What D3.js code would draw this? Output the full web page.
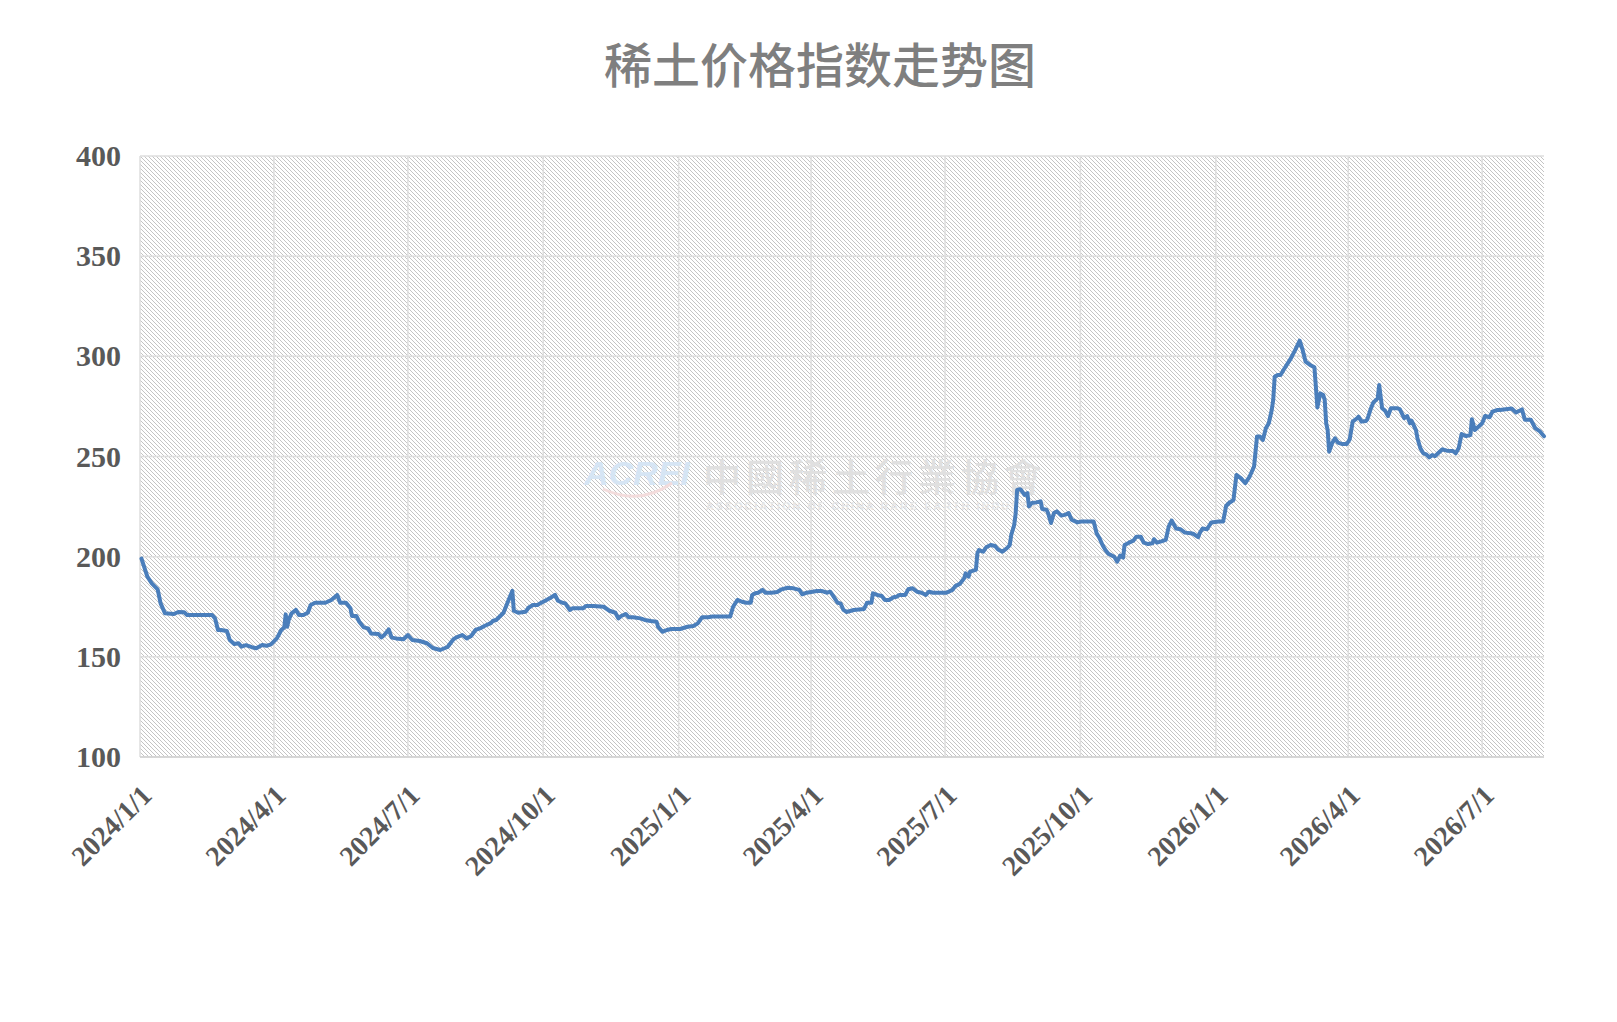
<!DOCTYPE html>
<html>
<head>
<meta charset="utf-8">
<script src="https://cdn.jsdelivr.net/npm/d3@7"></script>
<style>
  html, body { margin: 0; padding: 0; background: #ffffff; }
  svg { display: block; }
</style>
</head>
<body>
<svg id="chart" width="1617" height="1022"></svg>
<script>
// ---------------- DATA ----------------
const chartTitle = "稀土价格指数走势图";
const startDate = "2024-01-01";
const endDate = "2026-08-12";
const dayOffsets = [
  1, 5, 8, 12, 14, 17, 23, 26, 30, 32, 49, 51, 53, 55, 59, 61, 64, 67, 69, 72,
  76, 79, 83, 86, 89, 93, 96, 98, 99, 100, 101, 103, 106, 108, 111, 114, 116, 119, 122, 126,
  130, 134, 136, 140, 143, 144, 147, 149, 152, 155, 157, 162, 164, 166, 169, 171, 174, 179, 182, 185,
  190, 195, 199, 204, 209, 213, 215, 219, 222, 225, 228, 231, 234, 238, 240, 242, 245, 247, 250, 253,
  254, 257, 262, 264, 267, 270, 272, 275, 279, 282, 284, 287, 289, 292, 294, 297, 301, 303, 308, 315,
  319, 323, 325, 327, 330, 332, 335, 340, 343, 347, 351, 352, 355, 358, 361, 367, 372, 376, 379, 382,
  386, 389, 393, 401, 403, 406, 409, 412, 415, 416, 418, 420, 423, 425, 429, 433, 436, 440, 444, 448,
  450, 453, 457, 460, 463, 467, 469, 471, 474, 476, 478, 480, 485, 492, 494, 497, 498, 501, 504, 506,
  509, 512, 514, 516, 520, 522, 525, 528, 531, 534, 536, 539, 544, 548, 552, 554, 557, 560, 561, 563,
  564, 568, 569, 570, 573, 575, 578, 581, 583, 586, 589, 591, 592, 594, 595, 596, 598, 599, 601, 603,
  604, 606, 609, 612, 613, 616, 617, 619, 621, 623, 626, 629, 631, 633, 637, 640, 645, 648, 650, 652,
  654, 656, 658, 662, 664, 666, 668, 669, 672, 675, 677, 680, 682, 685, 688, 689, 691, 694, 697, 699,
  701, 704, 707, 710, 714, 716, 719, 720, 722, 725, 728, 733, 736, 738, 740, 743, 745, 748, 751, 754,
  757, 759, 761, 763, 765, 767, 769, 770, 771, 773, 775, 777, 782, 785, 788, 790, 792, 795, 798, 799,
  800, 802, 804, 805, 806, 807, 808, 810, 812, 814, 817, 820, 822, 824, 827, 828, 830, 833, 834, 836,
  838, 841, 842, 844, 846, 848, 850, 854, 856, 859, 861, 863, 864, 867, 868, 870, 872, 874, 876, 878,
  880, 882, 885, 888, 892, 894, 896, 898, 901, 904, 905, 907, 910, 912, 914, 917, 919, 922, 924, 932,
  935, 939, 941, 945, 948, 951, 954
];
const indexValues = [
  199.0, 190.0, 186.7, 183.7, 176.7, 171.7, 171.4, 172.4, 172.2, 170.9, 170.9, 169.2, 163.4, 163.4, 162.9, 158.4, 156.4, 156.8, 155.1, 155.8,
  154.8, 154.3, 155.9, 155.5, 156.2, 159.2, 163.4, 164.7, 171.2, 165.0, 168.4, 171.7, 173.4, 170.9, 170.9, 172.0, 175.9, 177.0, 177.0, 177.0,
  178.4, 180.9, 177.0, 177.0, 174.2, 170.4, 170.4, 167.5, 164.7, 164.2, 161.7, 161.4, 159.7, 160.9, 163.7, 159.6, 159.2, 158.8, 160.9, 158.4,
  157.9, 156.8, 154.4, 153.4, 154.9, 158.8, 159.7, 160.9, 159.2, 160.4, 163.4, 164.2, 165.4, 166.7, 168.0, 168.4, 170.5, 172.0, 177.5, 182.9,
  173.0, 172.0, 172.5, 174.5, 175.9, 175.9, 176.7, 177.9, 179.5, 180.9, 178.0, 177.0, 176.7, 173.4, 174.2, 174.2, 174.2, 175.4, 175.4, 175.0,
  173.0, 172.0, 169.2, 170.4, 171.4, 169.8, 169.8, 169.2, 168.4, 167.9, 167.5, 165.0, 162.5, 163.4, 163.9, 163.9, 165.0, 165.4, 166.7, 169.8,
  169.8, 170.1, 170.1, 170.1, 175.0, 178.4, 177.5, 177.0, 177.0, 180.9, 181.7, 182.0, 183.4, 182.0, 182.0, 182.4, 183.7, 184.5, 184.2, 183.4,
  181.2, 182.0, 182.5, 182.9, 182.9, 182.0, 182.5, 180.4, 177.0, 176.7, 173.4, 172.4, 173.4, 173.9, 177.0, 177.0, 181.7, 180.9, 180.4, 178.4,
  178.4, 179.7, 180.0, 180.9, 180.9, 183.7, 184.2, 182.5, 182.0, 180.9, 182.5, 182.0, 182.0, 182.0, 183.4, 185.3, 186.4, 189.2, 191.7, 190.0,
  192.5, 193.4, 201.7, 203.3, 202.5, 204.7, 205.8, 205.3, 203.6, 202.5, 204.2, 205.8, 210.8, 215.8, 221.6, 233.3, 233.7, 233.0, 230.8, 231.7,
  225.1, 226.8, 227.1, 227.6, 223.8, 223.4, 221.8, 216.8, 221.8, 222.6, 220.5, 221.0, 221.8, 218.5, 217.1, 217.6, 217.6, 217.6, 211.7, 209.2,
  205.8, 203.3, 201.5, 200.0, 197.5, 200.5, 199.5, 205.8, 207.0, 208.0, 210.0, 210.0, 207.0, 206.3, 206.7, 208.7, 207.0, 207.6, 208.4, 215.0,
  218.0, 214.1, 213.7, 212.0, 211.7, 211.3, 209.7, 211.7, 214.1, 213.7, 217.1, 217.6, 217.6, 225.3, 226.8, 228.3, 240.8, 239.2, 236.7, 240.0,
  245.0, 260.0, 260.0, 258.3, 264.1, 266.6, 273.2, 278.2, 289.8, 290.7, 290.7, 293.2, 299.0, 303.2, 307.8, 303.2, 297.3, 295.7, 294.5, 284.8,
  274.5, 281.5, 280.7, 278.2, 266.6, 263.2, 252.4, 256.6, 259.1, 256.9, 256.2, 256.2, 258.6, 267.4, 269.1, 269.9, 267.4, 267.7, 268.6, 273.2,
  276.9, 279.0, 285.7, 274.1, 272.9, 270.2, 274.1, 274.1, 273.6, 269.1, 270.2, 266.6, 267.9, 263.2, 259.1, 254.1, 251.6, 251.1, 249.6, 250.7,
  250.2, 251.6, 253.6, 252.9, 252.8, 251.6, 254.1, 261.2, 260.2, 260.7, 268.6, 263.2, 265.2, 266.6, 270.2, 269.6, 272.4, 273.2, 273.2, 274.0,
  272.0, 273.5, 268.4, 268.4, 264.2, 262.7, 260.1
];
const xTickLabels = ["2024/1/1", "2024/4/1", "2024/7/1", "2024/10/1", "2025/1/1", "2025/4/1",
                     "2025/7/1", "2025/10/1", "2026/1/1", "2026/4/1", "2026/7/1"];
const yTicks = [100, 150, 200, 250, 300, 350, 400];

// ---------------- CHART ----------------
const svg = d3.select("#chart");
const plot = { left: 140, right: 1544, top: 156, bottom: 757 };

const parseUTC = s => { const [y, m, d] = s.split(/[-\/]/).map(Number); return new Date(Date.UTC(y, m - 1, d)); };
const t0 = parseUTC(startDate);

const x = d3.scaleUtc().domain([t0, parseUTC(endDate)]).range([plot.left, plot.right]);
const y = d3.scaleLinear().domain([100, 400]).range([plot.bottom, plot.top]);

const data = dayOffsets.map((d, i) => ({ date: d3.utcDay.offset(t0, d), value: indexValues[i] }));
const tickDates = xTickLabels.map(parseUTC);

// pattern background (light downward diagonal, 1px dots)
const defs = svg.append("defs");
const pat = defs.append("pattern").attr("id", "hatch").attr("patternUnits", "userSpaceOnUse")
  .attr("width", 4).attr("height", 4);
pat.append("rect").attr("width", 4).attr("height", 4).attr("fill", "#ffffff");
pat.selectAll("rect.px").data([0, 1, 2, 3]).join("rect").attr("class", "px")
  .attr("x", d => d).attr("y", d => d).attr("width", 1).attr("height", 1)
  .attr("fill", "#c4c4c4").attr("shape-rendering", "crispEdges");

svg.append("rect").attr("x", plot.left).attr("y", plot.top)
  .attr("width", plot.right - plot.left).attr("height", plot.bottom - plot.top)
  .attr("fill", "url(#hatch)");

// gridlines
const grid = svg.append("g").attr("class", "grid");
grid.selectAll("line.h").data(yTicks).join("line").attr("class", "h")
  .attr("x1", plot.left).attr("x2", plot.right)
  .attr("y1", d => y(d)).attr("y2", d => y(d))
  .attr("stroke", "#dedede").attr("stroke-width", 1.5);
grid.selectAll("line.v").data(tickDates).join("line").attr("class", "v")
  .attr("x1", d => x(d)).attr("x2", d => x(d))
  .attr("y1", plot.top).attr("y2", plot.bottom)
  .attr("stroke", "#dedede").attr("stroke-width", 1.5);

// watermark
const wm = svg.append("g");
wm.append("text").attr("x", 584).attr("y", 485)
  .attr("font-family", "Liberation Sans, Arial, sans-serif").attr("font-weight", "bold")
  .attr("font-style", "italic").attr("font-size", 34).attr("fill", "#d6e5f4")
  .text("ACREI");
wm.append("path").attr("d", "M603,489 Q640,506 672,483")
  .attr("fill", "none").attr("stroke", "#f3dcdc").attr("stroke-width", 3);
wm.append("text").attr("x", 703).attr("y", 491)
  .attr("font-family", "Noto Sans CJK TC").attr("font-weight", 500)
  .attr("font-size", 38).attr("letter-spacing", 5).attr("fill", "#e0e0e0")
  .text("中國稀土行業協會");
wm.append("text").attr("x", 706).attr("y", 510)
  .attr("font-family", "Liberation Sans, Arial, sans-serif").attr("font-weight", "bold")
  .attr("font-size", 10.5).attr("letter-spacing", 2.2).attr("fill", "#e6e6e6")
  .text("ASSOCIATION OF CHINA RARE EARTH INDUSTRY");

// bottom axis line
svg.append("line").attr("x1", plot.left).attr("x2", plot.right)
  .attr("y1", plot.bottom).attr("y2", plot.bottom)
  .attr("stroke", "#d0d0d0").attr("stroke-width", 1.5);

// y axis
const yAxis = d3.axisLeft(y).tickValues(yTicks).tickSize(0).tickPadding(19).tickFormat(d3.format("d"));
const gy = svg.append("g").attr("transform", `translate(${plot.left},0)`).call(yAxis);
gy.select(".domain").remove();
gy.selectAll("text")
  .attr("font-family", "Liberation Serif, Times New Roman, serif")
  .attr("font-weight", "bold").attr("font-size", 30).attr("fill", "#595959");

// x axis
const fmt = d3.utcFormat("%Y/%-m/%-d");
const xAxis = d3.axisBottom(x).tickValues(tickDates).tickSize(0).tickFormat(fmt);
const gx = svg.append("g").attr("transform", `translate(0,${plot.bottom})`).call(xAxis);
gx.select(".domain").remove();
gx.selectAll("text")
  .attr("font-family", "Liberation Serif, Times New Roman, serif")
  .attr("font-weight", "bold").attr("font-size", 28).attr("fill", "#595959")
  .attr("text-anchor", "end").attr("dy", null).attr("y", null)
  .attr("transform", "translate(13,40) rotate(-45)");

// line
const line = d3.line().x(d => x(d.date)).y(d => y(d.value));
svg.append("path").datum(data).attr("d", line)
  .attr("fill", "none").attr("stroke", "#4a7ebb").attr("stroke-width", 4)
  .attr("stroke-linejoin", "round").attr("stroke-linecap", "round");

// title
svg.append("text").attr("x", 820).attr("y", 83).attr("text-anchor", "middle")
  .attr("font-family", "Noto Sans CJK SC").attr("font-weight", 500)
  .attr("font-size", 48).attr("fill", "#7f7f7f").text(chartTitle);
</script>
</body>
</html>
